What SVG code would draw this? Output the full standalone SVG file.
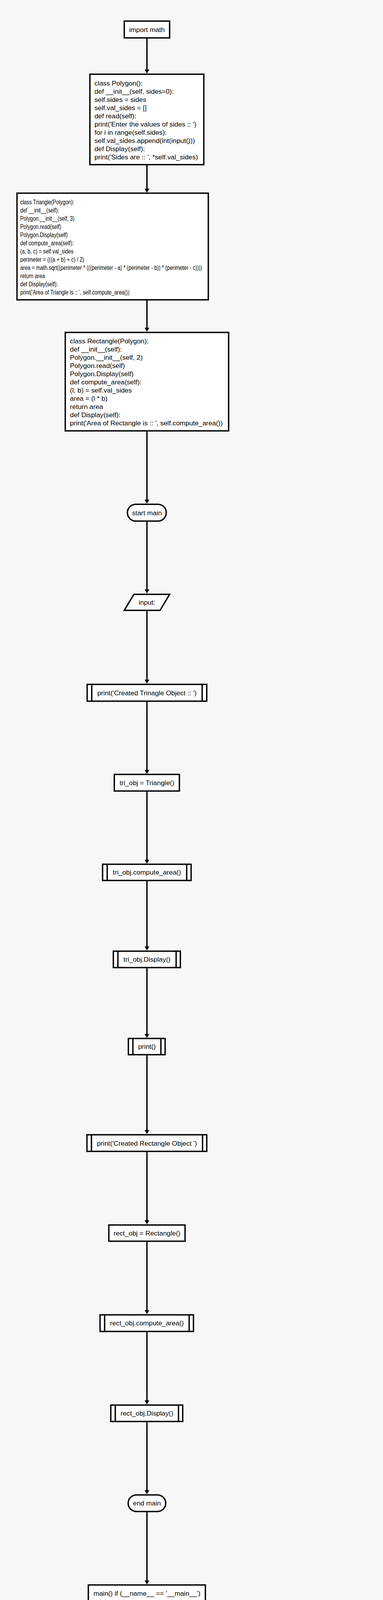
<svg xmlns="http://www.w3.org/2000/svg" width="980" height="4127" viewBox="0 0 980 4127">
<style>
.n{fill:#fff;stroke:#000;stroke-width:3.5}
.d{stroke:#000;stroke-width:3.5}
.t{font-family:"Liberation Sans",Arial,sans-serif;font-size:17.33px;fill:#000}
.c{text-anchor:middle}
.e{fill:none;stroke:#000;stroke-width:3.5}
</style>
<defs>
<marker id="ah" markerUnits="userSpaceOnUse" viewBox="0 0 10 12" markerWidth="10" markerHeight="12" refX="2" refY="6" orient="auto">
<path d="M0,0 L10,6 L0,12 z" fill="#000"/>
</marker>
</defs>
<rect width="980" height="4127" fill="#f7f7f7"/>
<g id="connectors">
<path class="e" marker-end="url(#ah)" d="M376,99 V180"/>
<path class="e" marker-end="url(#ah)" d="M376,423 V485"/>
<path class="e" marker-end="url(#ah)" d="M376,769 V841"/>
<path class="e" marker-end="url(#ah)" d="M376,1105 V1281"/>
<path class="e" marker-end="url(#ah)" d="M376,1336 V1511"/>
<path class="e" marker-end="url(#ah)" d="M376,1564 V1742"/>
<path class="e" marker-end="url(#ah)" d="M376,1797 V1973"/>
<path class="e" marker-end="url(#ah)" d="M376,2027 V2203"/>
<path class="e" marker-end="url(#ah)" d="M376,2256 V2425"/>
<path class="e" marker-end="url(#ah)" d="M376,2479 V2649"/>
<path class="e" marker-end="url(#ah)" d="M376,2702 V2895"/>
<path class="e" marker-end="url(#ah)" d="M376,2949 V3126"/>
<path class="e" marker-end="url(#ah)" d="M376,3179 V3356"/>
<path class="e" marker-end="url(#ah)" d="M376,3410 V3587"/>
<path class="e" marker-end="url(#ah)" d="M376,3641 V3817"/>
<path class="e" marker-end="url(#ah)" d="M376,3871 V4048"/>
</g>
<g id="import">
<rect class="n" x="318" y="54" width="116" height="43"/>
<text class="t c" x="376" y="82">import math</text>
</g>
<g id="polygon">
<rect class="n" x="230" y="190" width="291.5" height="231.5"/>
<text class="t" x="241.7" y="218.7">class Polygon():</text>
<text class="t" x="241.7" y="239.7">def __init__(self, sides=0):</text>
<text class="t" x="241.7" y="260.7">self.sides = sides</text>
<text class="t" x="241.7" y="281.7">self.val_sides = []</text>
<text class="t" x="241.7" y="302.7">def read(self):</text>
<text class="t" x="241.7" y="323.7">print('Enter the values of sides :: ')</text>
<text class="t" x="241.7" y="344.7">for i in range(self.sides):</text>
<text class="t" x="241.7" y="365.7">self.val_sides.append(int(input()))</text>
<text class="t" x="241.7" y="386.7">def Display(self):</text>
<text class="t" x="241.7" y="407.7">print('Sides are :: ', *self.val_sides)</text>
</g>
<g id="triangle">
<rect class="n" x="43.5" y="494.5" width="489.5" height="273"/>
<g transform="translate(51.7 0) scale(0.747 1)">
<text class="t" x="0" y="522.7">class Triangle(Polygon):</text>
<text class="t" x="0" y="543.7">def __init__(self):</text>
<text class="t" x="0" y="564.7">Polygon.__init__(self, 3)</text>
<text class="t" x="0" y="585.7">Polygon.read(self)</text>
<text class="t" x="0" y="606.7">Polygon.Display(self)</text>
<text class="t" x="0" y="627.7">def compute_area(self):</text>
<text class="t" x="0" y="648.7">(a, b, c) = self.val_sides</text>
<text class="t" x="0" y="669.7">perimeter = (((a + b) + c) / 2)</text>
<text class="t" x="0" y="690.7">area = math.sqrt((perimeter * (((perimeter - a) * (perimeter - b)) * (perimeter - c))))</text>
<text class="t" x="0" y="711.7">return area</text>
<text class="t" x="0" y="732.7">def Display(self):</text>
<text class="t" x="0" y="753.7">print('Area of Triangle is :: ', self.compute_area())</text>
</g>
</g>
<g id="rectangle">
<rect class="n" x="167" y="851" width="418" height="252"/>
<text class="t" x="179" y="878.7">class Rectangle(Polygon):</text>
<text class="t" x="179" y="899.7">def __init__(self):</text>
<text class="t" x="179" y="920.7">Polygon.__init__(self, 2)</text>
<text class="t" x="179" y="941.7">Polygon.read(self)</text>
<text class="t" x="179" y="962.7">Polygon.Display(self)</text>
<text class="t" x="179" y="983.7">def compute_area(self):</text>
<text class="t" x="179" y="1004.7">(l, b) = self.val_sides</text>
<text class="t" x="179" y="1025.7">area = (l * b)</text>
<text class="t" x="179" y="1046.7">return area</text>
<text class="t" x="179" y="1067.7">def Display(self):</text>
<text class="t" x="179" y="1088.7">print('Area of Rectangle is :: ', self.compute_area())</text>
</g>
<g id="start_main">
<rect class="n" x="326" y="1291" width="99.5" height="43" rx="21.5" ry="21.5"/>
<text class="t c" x="376" y="1318.5">start main</text>
</g>
<g id="input">
<polygon class="n" points="342.5,1521.5 434,1521.5 409.5,1562.5 318,1562.5"/>
<text class="t c" x="376" y="1548">input:</text>
</g>
<g id="print_tri">
<rect class="n" x="223" y="1752" width="306" height="43"/>
<line class="d" x1="234.7" y1="1752" x2="234.7" y2="1795"/>
<line class="d" x1="517.3" y1="1752" x2="517.3" y2="1795"/>
<text class="t c" x="376" y="1779.5">print('Created Trinagle Object :: ')</text>
</g>
<g id="tri_obj">
<rect class="n" x="292.5" y="1982.5" width="166.5" height="42.5"/>
<text class="t c" x="376" y="2010">tri_obj = Triangle()</text>
</g>
<g id="tri_compute">
<rect class="n" x="262.5" y="2212.5" width="226.5" height="41.5"/>
<line class="d" x1="274.3" y1="2212.5" x2="274.3" y2="2254"/>
<line class="d" x1="477.7" y1="2212.5" x2="477.7" y2="2254"/>
<text class="t c" x="376" y="2239.4">tri_obj.compute_area()</text>
</g>
<g id="tri_display">
<rect class="n" x="290" y="2435" width="171.5" height="42"/>
<line class="d" x1="301.7" y1="2435" x2="301.7" y2="2477"/>
<line class="d" x1="450.7" y1="2435" x2="450.7" y2="2477"/>
<text class="t c" x="376" y="2462">tri_obj.Display()</text>
</g>
<g id="print_empty">
<rect class="n" x="328.5" y="2658.5" width="94" height="41.5"/>
<line class="d" x1="340" y1="2658.5" x2="340" y2="2700"/>
<line class="d" x1="411.7" y1="2658.5" x2="411.7" y2="2700"/>
<text class="t c" x="376" y="2685.4">print()</text>
</g>
<g id="print_rect">
<rect class="n" x="222.5" y="2905" width="306.5" height="42.5"/>
<line class="d" x1="234" y1="2905" x2="234" y2="2947.5"/>
<line class="d" x1="518.3" y1="2905" x2="518.3" y2="2947.5"/>
<text class="t c" x="376" y="2932.5">print('Created Rectangle Object ')</text>
</g>
<g id="rect_obj">
<rect class="n" x="278.5" y="3136" width="195" height="41.5"/>
<text class="t c" x="376" y="3162.7">rect_obj = Rectangle()</text>
</g>
<g id="rect_compute">
<rect class="n" x="256" y="3366" width="239" height="42.5"/>
<line class="d" x1="267.7" y1="3366" x2="267.7" y2="3408.5"/>
<line class="d" x1="484" y1="3366" x2="484" y2="3408.5"/>
<text class="t c" x="376" y="3393.2">rect_obj.compute_area()</text>
</g>
<g id="rect_display">
<rect class="n" x="283.5" y="3597" width="184" height="42"/>
<line class="d" x1="295" y1="3597" x2="295" y2="3639"/>
<line class="d" x1="456.7" y1="3597" x2="456.7" y2="3639"/>
<text class="t c" x="376" y="3624">rect_obj.Display()</text>
</g>
<g id="end_main">
<rect class="n" x="328" y="3827" width="96" height="42.5" rx="21" ry="21"/>
<text class="t c" x="376" y="3854">end main</text>
</g>
<g id="main_call">
<rect class="n" x="226" y="4057.5" width="299.5" height="42.5"/>
<text class="t c" x="376" y="4085">main() if (__name__ == '__main__')</text>
</g>
</svg>
